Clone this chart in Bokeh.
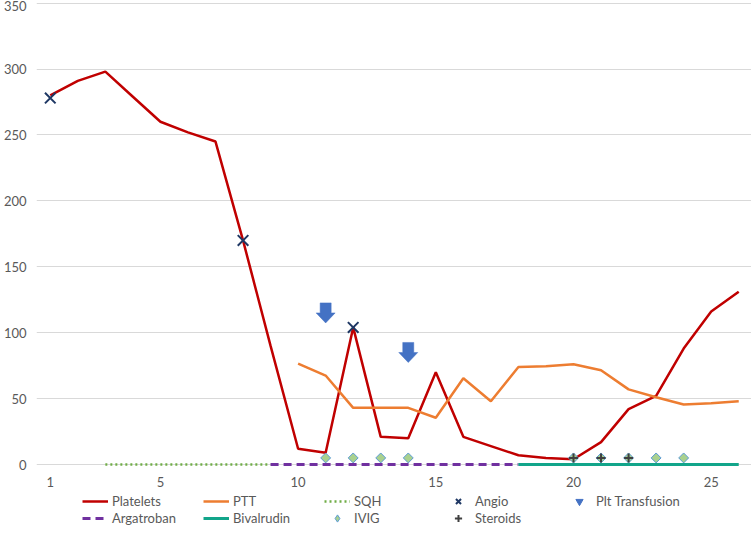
from bokeh.plotting import figure
from bokeh.layouts import column
from bokeh.models import Range1d, FixedTicker, Legend, LegendItem
from bokeh.embed import file_html
from bokeh.resources import INLINE
import math

# ---- data ----
days = list(range(1, 27))
platelets = [280, 291, 298, 279, 260, 252, 245, 170, 90, 12, 9, 104, 21, 20,
             70, 21, 14, 7, 5, 4, 17, 42, 52, 88, 116, 131]
ptt_days = list(range(10, 27))
ptt = [76.5, 67.5, 43, 43, 43, 35.5, 65.5, 48, 74, 74.5, 76, 71.5, 57, 51,
       45.5, 46.5, 48]
sqh_days = list(range(3, 10))
sqh = [0] * len(sqh_days)
arg_days = list(range(9, 19))
argatroban = [0] * len(arg_days)
biv_days = list(range(18, 27))
bivalrudin = [0] * len(biv_days)
angio_days = [1, 8, 12]
angio = [278, 170, 104]
tx_days = [11, 14]
plt_tx = [115, 85]
ivig_days = [11, 12, 13, 14, 20, 21, 22, 23, 24]
ivig = [5] * len(ivig_days)
steroid_days = [20, 21, 22]
steroids = [5] * len(steroid_days)
x_ticks = [1, 5, 10, 15, 20, 25]
y_ticks = [0, 50, 100, 150, 200, 250, 300, 350]

FONT = "Lato"
GRAY = "#595959"

STY = {
    "plt": dict(line_color="#c00000", line_width=2.5),
    "ptt": dict(line_color="#ed7d31", line_width=2.5),
    "sqh": dict(line_color="#70ad47", line_width=2.5, line_dash="2 3"),
    "arg": dict(line_color="#7030a0", line_width=3, line_dash="8 5"),
    "biv": dict(line_color="#12a58a", line_width=3),
    "ivig": dict(marker="square", angle=math.pi / 4, size=7,
                 fill_color="#a9d18e", line_color="#5b9bd5", line_width=1),
    "ster": dict(marker="cross", size=9, line_color="#404040", line_width=2),
    "angio": dict(marker="x", size=15, line_color="#1f3864", line_width=2),
    "tx": dict(marker="inverted_triangle", size=17, fill_color="#4472c4",
               line_color="#4472c4"),
}

p = figure(frame_width=716, frame_height=466, output_backend="svg",
           toolbar_location=None,
           x_range=Range1d(0.5, 26.5), y_range=Range1d(-1.5, 352),
           min_border_left=0, min_border_right=0, min_border_top=0,
           min_border_bottom=24)
p.outline_line_color = None
p.background_fill_color = "white"
p.border_fill_color = "white"

p.xgrid.grid_line_color = None
p.ygrid.grid_line_color = "#d9d9d9"
p.ygrid.grid_line_width = 1
p.ygrid.ticker = FixedTicker(ticks=y_ticks)

p.yaxis.ticker = FixedTicker(ticks=y_ticks)
p.xaxis.ticker = FixedTicker(ticks=x_ticks)
for ax in (p.xaxis[0], p.yaxis[0]):
    ax.axis_line_color = None
    ax.major_tick_line_color = None
    ax.minor_tick_line_color = None
    ax.major_label_text_font = FONT
    ax.major_label_text_font_size = "13px"
    ax.major_label_text_color = GRAY
p.yaxis.major_label_standoff = 4
p.xaxis.major_label_standoff = 4

p.line(days, platelets, **STY["plt"])
p.line(ptt_days, ptt, **STY["ptt"])
p.line(sqh_days, sqh, **STY["sqh"])
p.line(arg_days, argatroban, **STY["arg"])
p.line(biv_days, bivalrudin, **STY["biv"])
p.scatter(ivig_days, ivig, **STY["ivig"])
p.scatter(steroid_days, steroids, **STY["ster"])
p.scatter(angio_days, angio, **STY["angio"])

# block arrows for platelet transfusions, built around each data point
xs, ys = [], []
for d, v in zip(tx_days, plt_tx):
    sw, hw, hh = 0.2, 0.345, 7.6
    xs.append([d - sw, d + sw, d + sw, d + hw, d, d - hw, d - sw])
    ys.append([v + hh, v + hh, v, v, v - hh, v, v])
p.patches(xs, ys, fill_color="#4472c4", line_color="#4472c4", line_width=0.5)

# ---- legend strip (hidden proxy renderers only supply the swatches) ----
q = figure(width=735, height=37, output_backend="svg", toolbar_location=None,
           x_range=Range1d(100, 101), y_range=Range1d(1000, 1001),
           x_axis_location=None, y_axis_location=None,
           min_border_left=0, min_border_right=0, min_border_top=0,
           min_border_bottom=0)
q.grid.visible = False
q.outline_line_color = None

lr = {
    "Platelets": q.line(days[:1], platelets[:1], **STY["plt"]),
    "PTT": q.line(ptt_days[:1], ptt[:1], **STY["ptt"]),
    "SQH": q.line(sqh_days[:1], sqh[:1], **STY["sqh"]),
    "Angio": q.scatter(angio_days[:1], angio[:1], **dict(STY["angio"], size=11)),
    "Plt Transfusion": q.scatter(tx_days[:1], plt_tx[:1], **STY["tx"]),
    "Argatroban": q.line(arg_days[:1], argatroban[:1], **STY["arg"]),
    "Bivalrudin": q.line(biv_days[:1], bivalrudin[:1], **STY["biv"]),
    "IVIG": q.scatter(ivig_days[:1], ivig[:1], marker="diamond", size=12,
                      fill_color="#a9d18e", line_color="#5b9bd5", line_width=1),
    "Steroids": q.scatter(steroid_days[:1], steroids[:1], **dict(STY["ster"], size=8)),
}
for r in lr.values():
    r.visible = False


def make_legend(labels, loc):
    return Legend(items=[LegendItem(label=l, renderers=[lr[l]]) for l in labels],
                  orientation="horizontal", location=loc, click_policy="none",
                  border_line_color=None, background_fill_alpha=0,
                  label_text_font=FONT, label_text_font_size="13px",
                  label_text_color=GRAY, glyph_width=26, glyph_height=18,
                  label_standoff=4, label_width=88, spacing=3, padding=0,
                  margin=0, label_height=18, inactive_fill_alpha=0)


q.add_layout(make_legend(["Platelets", "PTT", "SQH", "Angio", "Plt Transfusion"],
                         (46, 17)))
q.add_layout(make_legend(["Argatroban", "Bivalrudin", "IVIG", "Steroids"],
                         (46, 0)))

layout = column(p, q, spacing=0)
open("out.html", "w").write(file_html(layout, INLINE))
